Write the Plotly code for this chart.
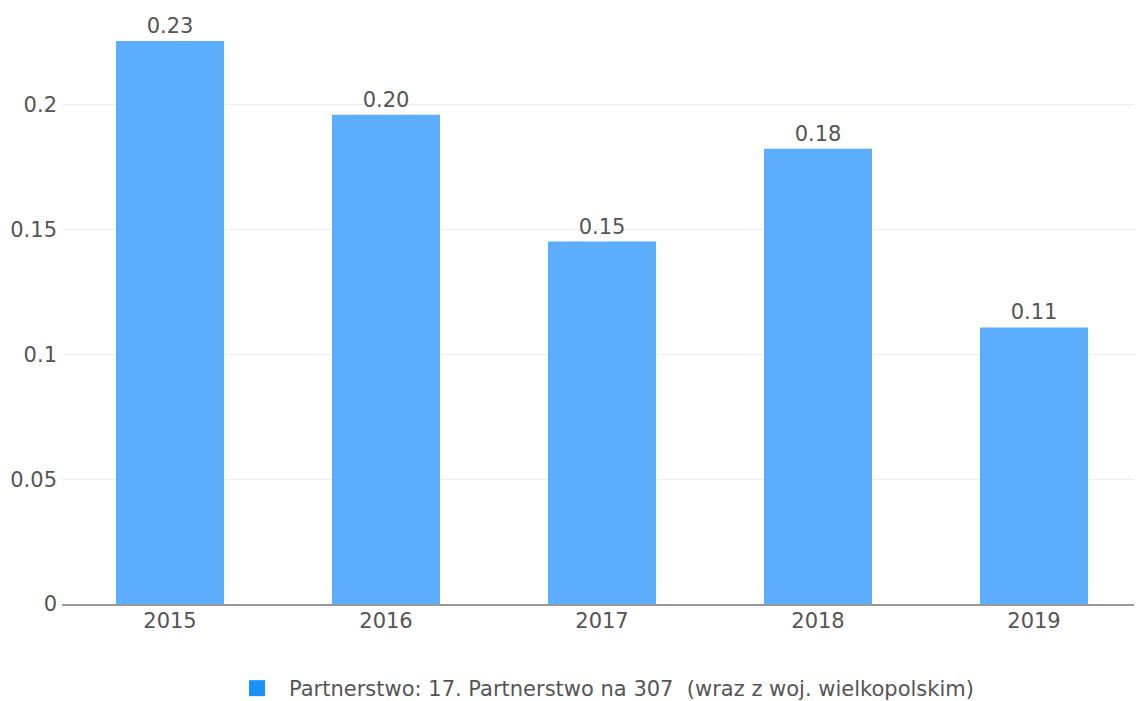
import plotly.graph_objects as go

years = ["2015", "2016", "2017", "2018", "2019"]
values = [0.2256, 0.196, 0.1452, 0.1824, 0.1108]
series_name = "Partnerstwo: 17. Partnerstwo na 307  (wraz z woj. wielkopolskim)"

FONT = "DejaVu Sans"
FS = 21

fig = go.Figure()
fig.add_trace(go.Bar(
    x=years, y=values, name=series_name,
    marker=dict(color="#5caefd", line=dict(width=0)),
    text=[f"{v:.2f}" for v in values], textposition="outside",
    textfont=dict(size=FS, color="#555555"),
    cliponaxis=False, width=0.5, showlegend=False,
))
# legend entry with square swatch
fig.add_trace(go.Scatter(
    x=[None], y=[None], name=series_name, mode="markers",
    marker=dict(color="#1890ff", symbol="square", size=18),
    showlegend=True,
))

fig.update_layout(
    width=1142, height=701,
    margin=dict(l=54, r=8, t=0, b=104),
    plot_bgcolor="white", paper_bgcolor="white",
    font=dict(family=FONT, size=FS, color="#555555"),
    xaxis=dict(
        showgrid=False, showline=True, linecolor="#999999", linewidth=2,
        ticks="", tickfont=dict(size=FS, color="#555555"), ticklabelstandoff=-3,
    ),
    yaxis=dict(
        range=[0, 0.2388], tickvals=[0, 0.05, 0.1, 0.15, 0.2],
        ticktext=["0", "0.05", "0.1", "0.15", "0.2"],
        showgrid=True, gridcolor="#eeeeee", gridwidth=1,
        zeroline=False, showline=False, ticks="", ticklabelstandoff=4,
        tickfont=dict(size=FS, color="#555555"),
    ),
    legend=dict(
        orientation="h", x=0.5, xanchor="center", y=-0.142, yanchor="middle",
        font=dict(size=FS, color="#555555"), itemsizing="trace", itemwidth=54,
    ),
)

fig.write_html("out.html")
